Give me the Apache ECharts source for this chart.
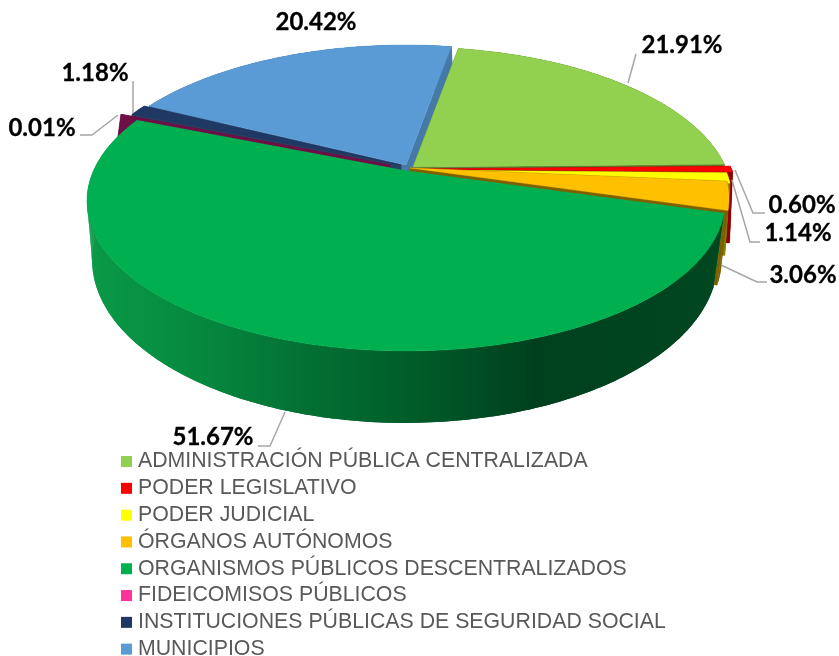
<!DOCTYPE html>
<html><head><meta charset="utf-8">
<style>html,body{margin:0;padding:0;background:#fff}#c{width:839px;height:656px}</style>
<script src="https://cdn.jsdelivr.net/npm/echarts@6/dist/echarts.min.js"></script>
</head><body><div id="c"></div>
<script>
const categories = ["ADMINISTRACIÓN PÚBLICA CENTRALIZADA","PODER LEGISLATIVO","PODER JUDICIAL","ÓRGANOS AUTÓNOMOS","ORGANISMOS PÚBLICOS DESCENTRALIZADOS","FIDEICOMISOS PÚBLICOS","INSTITUCIONES PÚBLICAS DE SEGURIDAD SOCIAL","MUNICIPIOS"];
const values = [21.91,0.60,1.14,3.06,51.67,0.01,1.18,20.42];
const topColors = ["#92D050","#FF0000","#FFFF00","#FFC000","#00B050","#FF3399","#1F3864","#5B9BD5"];
const wallColors = ["#5A7F30","#900000","#808000","#7F6000","#00B050","#6E0F45","#2A4060","#4579A8"];
const paintOrder = [7,6,5,0,1,2,3,4];
const sliceShift = [[7,-3],[13,-1],[7,0],[4,-2],[0,1],[-16,-5],[-5,-5],[0,-5]];
const startAngle = 10;
const topPlane = {cx:406,k:312.6,a:110,b:170,c:-0.2};
const bottomPlane = {cx:405,k:311,a:134.5,b:241,c:-0.11};
const greenWall = [[0,"#0A9A48"],[0.17,"#06893F"],[0.33,"#037234"],[0.5,"#005E2A"],[0.7,"#00401E"],[1,"#004720"]];
const labelLayout = [
 {x:682,y:45,line:[[636,54],[628,83]]},
 {x:802,y:205,line:[[735,170],[753,213],[765,213]]},
 {x:798,y:233,line:[[732,180],[750,242],[760,242]]},
 {x:803,y:275,line:[[721,265],[757,282],[767,282]]},
 {x:213,y:437,line:[[285,412],[270,446],[258,446]]},
 {x:42,y:128,line:[[118,115],[92,135],[80,135]]},
 {x:95,y:73,line:[[133,81],[133,113]]},
 {x:316,y:22,line:[]}
];

const total = values.reduce((s,v)=>s+v,0);
function project(p,deg,r,shift){
  const t=deg*Math.PI/180,u=r*Math.sin(t),v=-r*Math.cos(t),w=1+p.c*v;
  return [p.cx+p.k*u/w+shift[0],(p.a*v+p.b)/w+shift[1]];
}
function arc(p,a0,a1,shift){
  const n=Math.max(2,Math.ceil(Math.abs(a1-a0))),pts=[];
  for(let i=0;i<=n;i++)pts.push(project(p,a0+(a1-a0)*i/n,1,shift));
  return pts;
}
function range(i){
  let s=0;for(let j=0;j<i;j++)s+=values[j];
  return [startAngle+s/total*360,startAngle+(s+values[i])/total*360];
}
function renderSlice(params,api){
  const i=params.seriesIndex,[a0,a1]=range(i),sh=sliceShift[i];
  const T=arc(topPlane,a0,a1,sh),B=arc(bottomPlane,a0,a1,sh);
  const at=project(topPlane,0,0,sh),ab=project(bottomPlane,0,0,sh);
  const wall=wallColors[i];
  const rimFill=i===4?{type:'linear',x:87,y:0,x2:725,y2:0,global:true,colorStops:greenWall.map(s=>({offset:s[0],color:s[1]}))}:wall;
  const poly=(pts,fill,lw)=>({type:'polygon',shape:{points:pts},style:{fill:fill,stroke:lw?fill:null,lineWidth:lw||0},silent:true});
  const children=[poly([at,T[0],B[0],ab],wall,0.4),poly([at,T[T.length-1],B[B.length-1],ab],wall,0.4)];
  children.push(poly(T.concat(B.slice().reverse()),rimFill));
  for(let k=0;k<T.length-1;k++)children.push(poly([T[k],T[k+1],B[k+1],B[k]],rimFill));
  children.push(poly([at].concat(T),values[i]<0.1?wall:topColors[i],0.4));
  return {type:'group',children};
}
const graphics=[];
values.forEach((v,i)=>{
  const L=labelLayout[i];
  if(L.line.length)graphics.push({type:'polyline',silent:true,z:20,shape:{points:L.line},style:{fill:null,stroke:'#A6A6A6',lineWidth:1.5}});
  graphics.push({type:'text',silent:true,z:21,x:L.x,y:L.y,style:{text:v.toFixed(2)+'%',fill:'#000',stroke:'#000',lineWidth:0.3,font:'bold 24px Lato, Carlito, sans-serif',align:'center',verticalAlign:'middle'}});
});
const chart=echarts.init(document.getElementById('c'),null,{renderer:'canvas'});
chart.setOption({
  animation:false,
  legend:{orient:'vertical',left:121,top:450.5,height:250,padding:0,itemWidth:11,itemHeight:11,itemGap:4.7,icon:'rect',selectedMode:false,
    data:categories,textStyle:{color:'#595959',fontFamily:'"Liberation Sans",Arial,sans-serif',fontSize:21.3,lineHeight:22.1,padding:[0,0,0,1]}},
  graphic:graphics,
  series:categories.map((name,i)=>({
    type:'custom',name,coordinateSystem:'none',silent:true,
    z:2+paintOrder.indexOf(i)/10,
    itemStyle:{color:topColors[i]},
    data:[[values[i]]],
    renderItem:renderSlice
  }))
});
</script></body></html>
